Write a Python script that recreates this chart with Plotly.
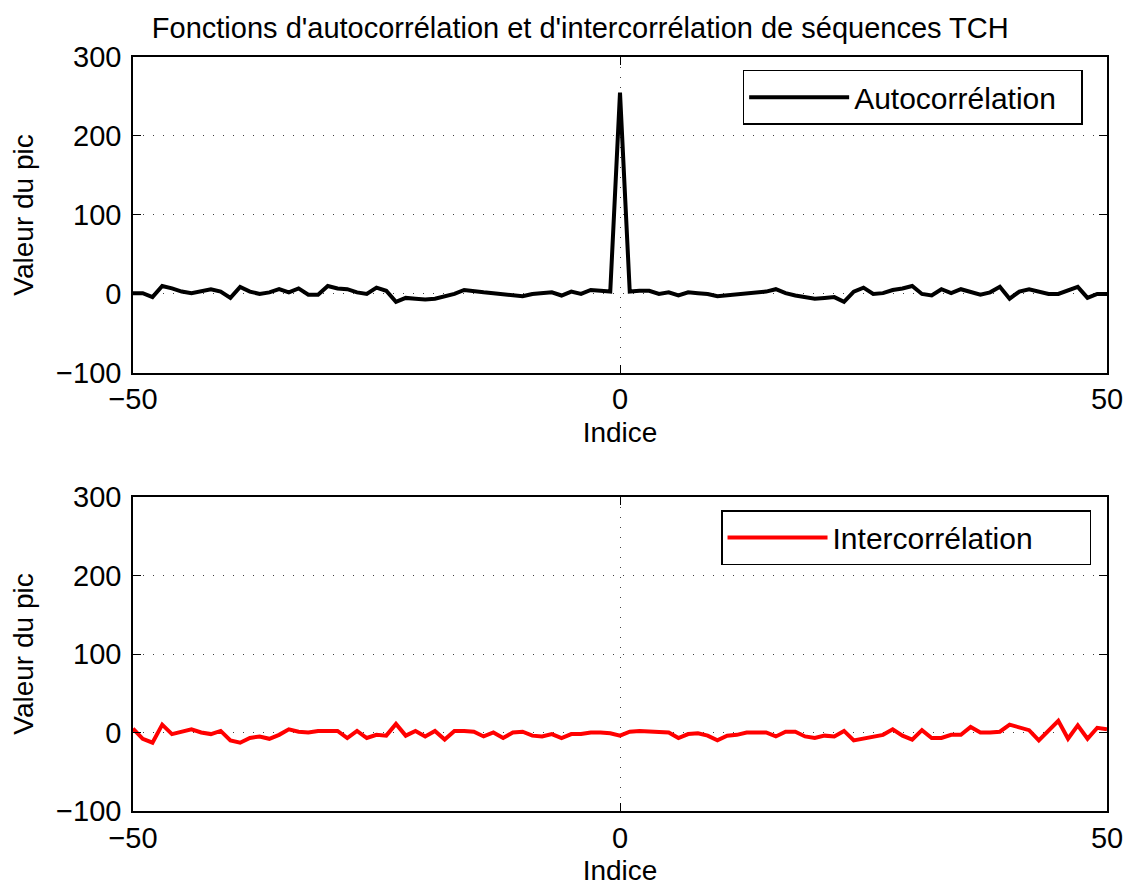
import plotly.graph_objects as go
from plotly.subplots import make_subplots

indices = list(range(-50, 51))

autocorr = [1, 1, -4, 10, 7, 3, 1, 3, 6, 3,
            -5, 9, 3, 0, 2, 6, 2, 7, -1, -1,
            10, 7, 6, 2, 0, 8, 4, -10, -5, -6,
            -7, -6, -3, 0, 5, 3, 2, 1, 0, -2,
            -3, 0, 1, 2, -2, 3, 0, 5, 4, 3,
            255,
            3, 4, 4, 0, 2, -2, 2, 1, 0, -3,
            -2, 0, 1, 2, 3, 6, 1, -2, -4, -6,
            -5, -4, -10, 3, 8, 0, 1, 5, 7, 10,
            0, -2, 6, 1, 6, 2, -1, 2, 9, -6,
            3, 6, 3, 0, 0, 5, 9, -5, 0, 0]

intercorr = [5, -8, -13, 10, -2, 1, 4, 0, -2, 2,
             -10, -13, -7, -5, -8, -3, 4, 1, 0, 2,
             2, 2, -7, 2, -7, -3, -4, 11, -4, 2,
             -5, 2, -9, 2, 2, 1, -5, 0, -7, 0,
             1, -4, -5, -2, -7, -2, -2, 0, 0, -1,
             -4,
             1, 2, 1, 0, 0, -7, -2, -1, -4, -10,
             -4, -3, 0, 0, 0, -5, 1, 1, -5, -7,
             -4, -5, 2, -10, -8, -5, -3, 4, -4, -9,
             3, -7, -7, -3, -3, 7, 0, 0, 1, 10,
             7, 3, -10, 3, 15, -8, 9, -8, 6, 4]

x_ticks = [-50, 0, 50]
y_ticks = [-100, 0, 100, 200, 300]

title_text = "Fonctions d'autocorrélation et d'intercorrélation de séquences TCH"
FONT = "Liberation Sans, Arial, Helvetica, sans-serif"

fig = make_subplots(rows=2, cols=1)

fig.add_trace(go.Scatter(x=indices, y=autocorr, mode="lines", name="Autocorrélation",
                         line=dict(color="black", width=4), legend="legend"),
              row=1, col=1)
fig.add_trace(go.Scatter(x=indices, y=intercorr, mode="lines", name="Intercorrélation",
                         line=dict(color="#ff0000", width=4), legend="legend2"),
              row=2, col=1)

axis_common = dict(
    showline=True, linecolor="black", linewidth=1.5, mirror="ticks",
    ticks="inside", ticklen=8, tickcolor="black", tickwidth=1,
    showgrid=True, gridcolor="rgba(0,0,0,0.75)", gridwidth=1, griddash="1px,9px",
    zeroline=False, tickfont=dict(size=29, color="black", family=FONT),
)

for r in (1, 2):
    fig.update_xaxes(range=[-50, 50], tickvals=x_ticks,
                     title=dict(text="Indice", font=dict(size=28, color="black", family=FONT), standoff=8),
                     row=r, col=1, **axis_common)
    fig.update_yaxes(range=[-100, 300], tickvals=y_ticks, ticklabelstandoff=4,
                     title=dict(text="Valeur du pic", font=dict(size=28, color="black", family=FONT), standoff=14),
                     row=r, col=1, **axis_common)

legend_common = dict(xanchor="right", yanchor="top", orientation="h",
                     bordercolor="black", borderwidth=1.5, bgcolor="white",
                     itemwidth=100,
                     font=dict(size=30, color="black", family=FONT))

fig.update_layout(
    width=1131, height=889,
    margin=dict(l=125, r=32, t=49, b=86),
    paper_bgcolor="white", plot_bgcolor="white",
    font=dict(family=FONT, color="black"),
    title=dict(text=title_text, x=0.506, xanchor="center", y=0.9775, yanchor="middle",
               font=dict(size=29, color="black", family=FONT)),
    yaxis=dict(domain=[0.581, 1.0]),
    yaxis2=dict(domain=[0.0, 0.4164]),
    showlegend=True,
    legend=dict(x=0.975, y=0.983, entrywidth=222, **legend_common),
    legend2=dict(x=0.9836, y=0.3992, entrywidth=252, **legend_common),
)

fig.write_html("out.html")
